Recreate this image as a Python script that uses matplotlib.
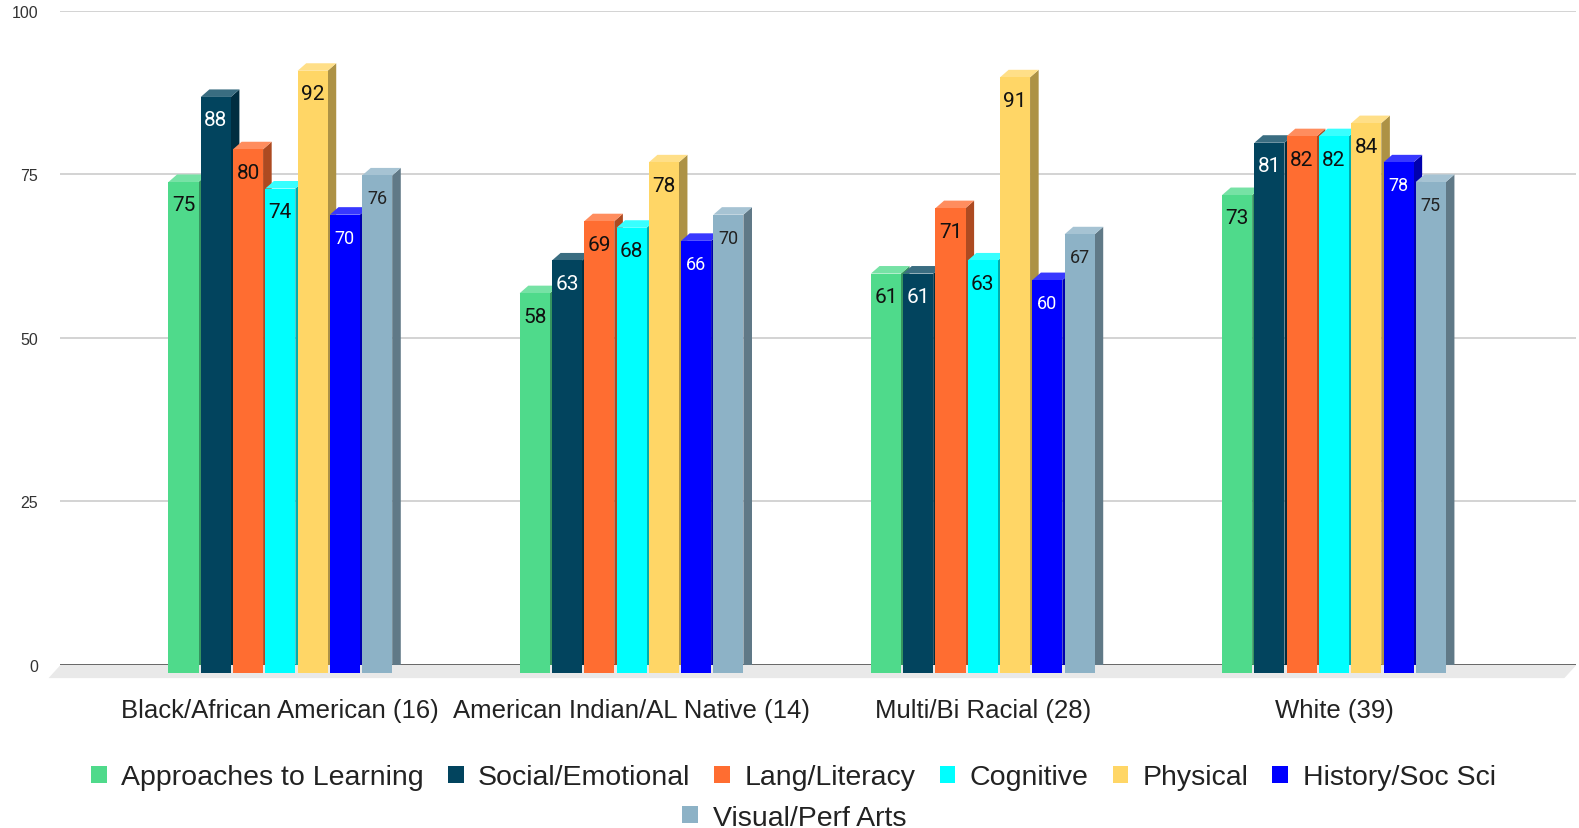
import numpy as np
import matplotlib.pyplot as plt
from matplotlib.patches import Polygon, Patch
from matplotlib.colors import to_rgb

# --- data --- #
groups = ['Black/African American (16)', 'American Indian/AL Native (14)',
          'Multi/Bi Racial (28)', 'White (39)']
series = ['Approaches to Learning', 'Social/Emotional', 'Lang/Literacy', 'Cognitive',
          'Physical', 'History/Soc Sci', 'Visual/Perf Arts']
approaches = [75, 58, 61, 73]
social = [88, 63, 61, 81]
lang = [80, 69, 71, 82]
cognitive = [74, 68, 63, 82]
physical = [92, 78, 91, 84]
history = [70, 66, 60, 78]
visual = [76, 70, 67, 75]
values = [approaches, social, lang, cognitive, physical, history, visual]

colors = ['#4fda8b', '#02445e', '#ff6d31', '#00ffff', '#ffd666', '#0000ff', '#8db2c6']
text_colors = ['#111111', 'white', '#111111', '#111111', '#111111', 'white', '#222222']
label_sizes = [15, 15, 15, 15, 15, 13, 13]


def shade(c, f):
    r, g, b = to_rgb(c)
    return (r * f, g * f, b * f)


def tint(c, f):
    r, g, b = to_rgb(c)
    return (r + (1 - r) * f, g + (1 - g) * f, b + (1 - b) * f)


fig = plt.figure(figsize=(15.79, 8.29), dpi=100)
ax = fig.add_axes([0.0383, 0.1966, 0.9600, 0.789])

slot = 0.0919
face = 0.0855
dx = 0.0245   # depth of the fake 3d, x in data units
dy = 1.15     # depth, y in data units
centers = np.arange(len(groups))

# --- floor --- #
x0, x1 = -0.626, 3.69
floor = Polygon([(x0, 0), (x1, 0), (x1 - 0.034, -2.0), (x0 - 0.034, -2.0)],
                closed=True, facecolor='#e9e9e9', edgecolor='none', zorder=0.5, clip_on=False)
ax.add_patch(floor)
ax.axhline(0, color='#555555', lw=1.2, zorder=1)

# --- bars --- #
z = 2
for i, vals in enumerate(values):
    xs = centers + (i - 3) * slot
    for x, v in zip(xs, vals):
        left, right = x - face / 2, x + face / 2
        side = Polygon([(right, -dy), (right + dx, 0), (right + dx, v), (right, v - dy)],
                       closed=True, facecolor=shade(colors[i], 0.68), edgecolor='none', zorder=z)
        top = Polygon([(left, v - dy), (left + dx, v), (right + dx, v), (right, v - dy)],
                      closed=True, facecolor=tint(colors[i], 0.22), edgecolor='none', zorder=z)
        ax.add_patch(side)
        ax.add_patch(top)
    ax.bar(xs, vals, width=face, bottom=-dy, color=colors[i], zorder=z + 0.5, clip_on=False)
    for x, v in zip(xs, vals):
        ax.annotate(str(v), (x, v - dy), xytext=(0, -16.5), textcoords='offset points',
                    ha='center', va='center', fontsize=label_sizes[i], color=text_colors[i],
                    family='Roboto', zorder=z + 1)
    z += 2

# --- axes --- #
ax.set_xlim(x0, x1)
ax.set_ylim(0, 100)
ax.set_yticks([0, 25, 50, 75, 100])
ax.yaxis.grid(True, color='#cccccc', lw=1.2, zorder=0)
ax.set_axisbelow(True)
ax.set_xticks(centers)
ax.set_xticklabels(groups, family='Liberation Sans', fontsize=18.5, color='#222222')
for lab in ax.get_yticklabels():
    lab.set_family('Liberation Sans')
ax.tick_params(axis='y', length=0, pad=16, labelsize=11.5, labelcolor='#333333')
ax.tick_params(axis='x', length=0, pad=24)
for s in ax.spines.values():
    s.set_visible(False)

# --- legend --- #
handles = [Patch(facecolor=c, edgecolor='none') for c in colors]
leg_kw = dict(loc='center', frameon=False, prop={'family': 'Liberation Sans', 'size': 20.5},
              handlelength=0.56, handleheight=0.56, handletextpad=0.5, columnspacing=0.84,
              labelcolor='#222222', borderpad=0)
fig.legend(handles[:6], series[:6], ncol=6, bbox_to_anchor=(0.5025, 0.061), **leg_kw)
fig.legend(handles[6:], series[6:], ncol=1, bbox_to_anchor=(0.503, 0.0122), **leg_kw)

fig.savefig('out.png', dpi=100)
